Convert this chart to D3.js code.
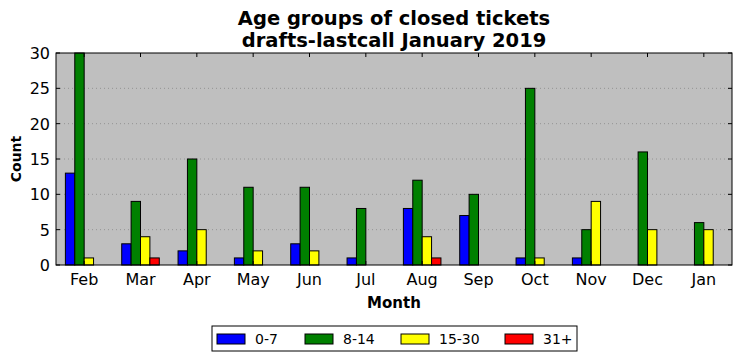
<!DOCTYPE html>
<html lang="en">
<head>
<meta charset="UTF-8">
<script src="https://d3js.org/d3.v7.min.js"></script>
<style>
  body { margin: 0; background: #fff; }
  text { font-family: "DejaVu Sans", sans-serif; }
</style>
<title>Age groups</title>
</head>
<body>
<div class="canvas"></div>
<script>
const months = ['Feb', 'Mar', 'Apr', 'May', 'Jun', 'Jul', 'Aug', 'Sep', 'Oct', 'Nov', 'Dec', 'Jan']
const groups = ['0-7', '8-14', '15-30', '31+']
const age0_7 = [13, 3, 2, 1, 3, 1, 8, 7, 1, 1, 0, 0]
const age8_14 = [30, 9, 15, 11, 11, 8, 12, 10, 25, 5, 16, 6]
const age15_30 = [1, 4, 5, 2, 2, 0, 4, 0, 1, 9, 5, 5]
const age31 = [0, 1, 0, 0, 0, 0, 1, 0, 0, 0, 0, 0]
const yTicks = [0, 5, 10, 15, 20, 25, 30]
const colors = ['#0000ff', '#008000', '#ffff00', '#ff0000']
const series = [age0_7, age8_14, age15_30, age31]

const W = 742, H = 361
const [mt, mb, ml, mr] = [53, 96, 56, 10]
const gw = W - ml - mr
const gh = H - mt - mb

const svg = d3.select('.canvas').append('svg')
  .attr('width', W).attr('height', H)

const x = d3.scaleLinear().domain([-0.5, months.length - 0.5]).range([0, gw])
const y = d3.scaleLinear().domain([0, 30]).range([gh, 0])
const bw = x(1 / 6) - x(0)

const g = svg.append('g').attr('transform', `translate(${ml},${mt})`)

g.append('rect').attr('width', gw).attr('height', gh).attr('fill', '#bfbfbf')

// grid
g.selectAll('.grid').data(yTicks.slice(1, -1)).enter().append('line')
  .attr('x1', 0).attr('x2', gw)
  .attr('y1', d => y(d)).attr('y2', d => y(d))
  .attr('stroke', '#888').attr('stroke-width', 0.8).attr('stroke-dasharray', '1,3')

// bars
series.forEach((vals, i) => {
  g.selectAll('.b' + i).data(vals).enter().append('rect')
    .attr('x', (d, j) => x(j) + (i - 2) * bw)
    .attr('y', d => y(d))
    .attr('width', bw)
    .attr('height', d => gh - y(d))
    .attr('fill', colors[i])
    .attr('stroke', '#000').attr('stroke-width', 1)
})

// frame
g.append('rect').attr('width', gw).attr('height', gh)
  .attr('fill', 'none').attr('stroke', '#000').attr('stroke-width', 1)

// ticks (inward, all four sides)
const tl = 4
months.forEach((m, j) => {
  g.append('line').attr('x1', x(j)).attr('x2', x(j)).attr('y1', gh).attr('y2', gh - tl).attr('stroke', '#000')
  g.append('line').attr('x1', x(j)).attr('x2', x(j)).attr('y1', 0).attr('y2', tl).attr('stroke', '#000')
})
yTicks.forEach(t => {
  g.append('line').attr('x1', 0).attr('x2', tl).attr('y1', y(t)).attr('y2', y(t)).attr('stroke', '#000')
  g.append('line').attr('x1', gw).attr('x2', gw - tl).attr('y1', y(t)).attr('y2', y(t)).attr('stroke', '#000')
})

// tick labels
g.selectAll('.xl').data(months).enter().append('text')
  .attr('x', (d, j) => x(j)).attr('y', gh + 20)
  .attr('text-anchor', 'middle').style('font-size', '16px').text(d => d)
g.selectAll('.yl').data(yTicks).enter().append('text')
  .attr('x', -6).attr('y', d => y(d) + 6)
  .attr('text-anchor', 'end').style('font-size', '16px').text(d => d)

// axis titles
svg.append('text').attr('x', ml + gw / 2).attr('y', 308)
  .attr('text-anchor', 'middle').style('font-size', '15px').style('font-weight', 'bold').text('Month')
svg.append('text').attr('transform', `translate(21,${mt + gh / 2}) rotate(-90)`)
  .attr('text-anchor', 'middle').style('font-size', '14px').style('font-weight', 'bold').text('Count')

// title
svg.append('text').attr('x', ml + gw / 2).attr('y', 25)
  .attr('text-anchor', 'middle').style('font-size', '19.5px').style('font-weight', 'bold')
  .text('Age groups of closed tickets')
svg.append('text').attr('x', ml + gw / 2).attr('y', 47)
  .attr('text-anchor', 'middle').style('font-size', '19.5px').style('font-weight', 'bold')
  .text('drafts-lastcall January 2019')

// legend
const lg = svg.append('g').attr('transform', 'translate(212,326)')
lg.append('rect').attr('width', 365).attr('height', 25)
  .attr('fill', '#fff').attr('stroke', '#000').attr('stroke-width', 1)
const lx = [5, 93, 189, 293]
groups.forEach((name, i) => {
  lg.append('rect').attr('x', lx[i]).attr('y', 8).attr('width', 28).attr('height', 10)
    .attr('fill', colors[i]).attr('stroke', '#000').attr('stroke-width', 1)
  lg.append('text').attr('x', lx[i] + 38).attr('y', 18)
    .style('font-size', '14px').text(name)
})
</script>
</body>
</html>
